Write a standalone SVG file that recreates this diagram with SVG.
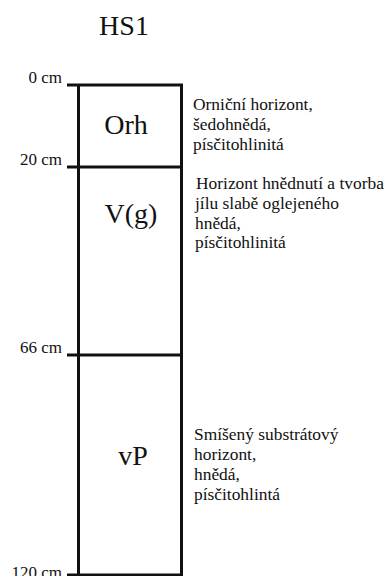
<svg xmlns="http://www.w3.org/2000/svg" width="386" height="576" viewBox="0 0 386 576">
  <style>
    text { font-family: 'Liberation Serif',serif; fill: #111; }
    .title { font-size: 28px; text-anchor: middle; }
    .code { font-size: 28px; text-anchor: middle; }
    .depth { font-size: 17px; text-anchor: end; }
    .desc { font-size: 17.4px; }
    .line { stroke: #111; stroke-width: 3; fill: none; }
  </style>
  <rect width="386" height="576" fill="#fff"/>

  <text class="title" x="124" y="35">HS1</text>

  <!-- soil profile column -->
  <g id="connectors">
    <line class="line" x1="78.5" y1="85" x2="78.5" y2="576"/>
    <line class="line" x1="181.5" y1="85" x2="181.5" y2="576"/>
    <line class="line" x1="67" y1="85" x2="183" y2="85"/>
    <line class="line" x1="67" y1="167" x2="183" y2="167"/>
    <line class="line" x1="67" y1="355" x2="183" y2="355"/>
    <line class="line" x1="67" y1="575" x2="183" y2="575"/>
  </g>

  <!-- depth labels -->
  <g id="depths">
    <text class="depth" x="62" y="83">0 cm</text>
    <text class="depth" x="62" y="165">20 cm</text>
    <text class="depth" x="62" y="353">66 cm</text>
    <text class="depth" x="62" y="578">120 cm</text>
  </g>

  <g id="orh">
    <text class="code" x="126" y="134">Orh</text>
    <text class="desc" x="193" y="110">Orniční horizont,</text>
    <text class="desc" x="193" y="130">šedohnědá,</text>
    <text class="desc" x="193" y="150">písčitohlinitá</text>
  </g>

  <g id="vg">
    <text class="code" x="131" y="223">V(g)</text>
    <text class="desc" x="196" y="189">Horizont hnědnutí a tvorba</text>
    <text class="desc" x="195" y="209">jílu slabě oglejeného</text>
    <text class="desc" x="195" y="229">hnědá,</text>
    <text class="desc" x="195" y="248">písčitohlinitá</text>
  </g>

  <g id="vp">
    <text class="code" x="133" y="465">vP</text>
    <text class="desc" x="194" y="440">Smíšený substrátový</text>
    <text class="desc" x="194" y="460">horizont,</text>
    <text class="desc" x="194" y="480">hnědá,</text>
    <text class="desc" x="194" y="500">písčitohlintá</text>
  </g>
</svg>
